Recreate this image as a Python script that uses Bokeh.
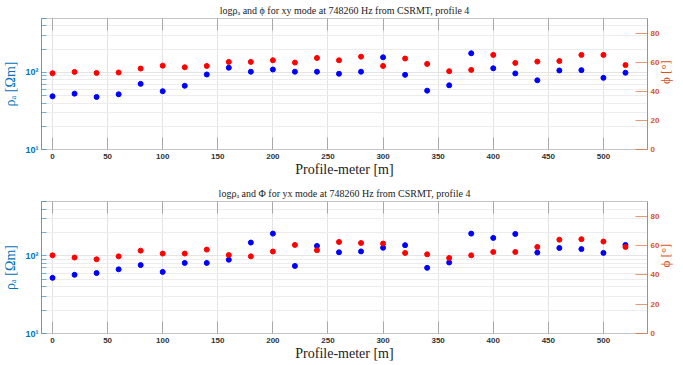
import math
from bokeh.plotting import figure
from bokeh.models import Range1d, LinearAxis, FixedTicker, LinearScale
from bokeh.layouts import column
from bokeh.embed import file_html
from bokeh.resources import INLINE

# ---------------- data ----------------
profile_m = [0, 20, 40, 60, 80, 100, 120, 140, 160, 180, 200, 220, 240, 260,
             280, 300, 320, 340, 360, 380, 400, 420, 440, 460, 480, 500, 520]

rho_xy = [49, 53, 48, 52, 71, 57, 67, 94, 115, 102, 109, 102, 102, 96,
          102, 157, 93, 58, 68, 177, 113, 97, 79, 106, 107, 85, 99]
phi_xy = [52.4, 53.3, 52.6, 52.9, 55.6, 57.6, 56.5, 57.4, 60.2, 60.2, 61.3, 59.7, 62.9, 61.3,
          63.8, 57.4, 62.5, 58.8, 53.8, 54.7, 65.0, 59.5, 60.4, 60.8, 65.0, 65.0, 58.0]

rho_yx = [52, 57, 60, 67, 76, 62, 81, 81, 89, 148, 193, 74, 134, 111,
          114, 127, 137, 70, 82, 193, 170, 191, 110, 126, 122, 109, 138]
phi_yx = [53.3, 51.8, 50.6, 52.6, 56.5, 54.5, 54.5, 57.2, 53.5, 52.6, 55.9, 60.4, 56.8, 62.4,
          61.7, 61.3, 54.9, 54.0, 51.5, 53.3, 55.6, 55.6, 59.0, 64.0, 64.3, 62.7, 59.0]

x_ticks = [0, 50, 100, 150, 200, 250, 300, 350, 400, 450, 500]
rho_major_ticks = [10, 100]
rho_minor_ticks = [20, 30, 40, 50, 60, 70, 80, 90, 200, 300, 400, 500]
rho_tick_labels = {10: "10\u00b9", 100: "10\u00b2"}
phi_ticks = [0, 20, 40, 60, 80]

title_xy = "log\u03c1\u2090 and \u03d5 for xy mode at 748260 Hz from CSRMT, profile 4"
title_yx = "log\u03c1\u2090 and \u03a6 for yx mode at 748260 Hz from CSRMT, profile 4"
xlabel = "Profile-meter [m]"
ylabel_left = "\u03c1\u2090 [\u03a9m]"
ylabel_right = "\u03d5 [\u00b0]"

BLUE = "#0072BD"
ORANGE = "#D95319"
SANS = "Liberation Sans"
SERIF = "Liberation Serif"


def make(title, rho, phi, height, top, bottom, title_gap):
    p = figure(width=683, height=height,
               x_range=Range1d(-10, 540), y_range=Range1d(10, 500),
               y_axis_type="log", output_backend="svg", toolbar_location=None,
               min_border_left=40, min_border_right=29,
               min_border_top=top, min_border_bottom=bottom)
    p.background_fill_color = "white"
    p.border_fill_color = "white"
    p.outline_line_color = "#c4c4c4"

    # title
    p.title.text = title
    p.title.text_font = SERIF
    p.title.text_font_size = "10px"
    p.title.text_font_style = "normal"
    p.title.text_color = "#222222"
    p.title.align = "center"
    p.title.standoff = title_gap

    # bottom x axis
    xa = p.xaxis[0]
    xa.ticker = FixedTicker(ticks=x_ticks)
    xa.axis_label = xlabel
    xa.axis_label_text_font = SERIF
    xa.axis_label_text_font_size = "14px"
    xa.axis_label_text_font_style = "normal"
    xa.axis_label_text_color = "#222222"
    xa.axis_label_standoff = 0
    xa.major_label_text_font = SANS
    xa.major_label_text_font_style = "bold"
    xa.major_label_text_font_size = "8px"
    xa.major_label_text_color = "#333333"
    xa.major_label_standoff = 4
    xa.major_tick_in = 12
    xa.major_tick_out = 0
    xa.minor_tick_line_color = None
    xa.major_tick_line_color = "#a8a8a8"
    xa.axis_line_color = "#c4c4c4"

    # top ticks only
    ta = LinearAxis(ticker=FixedTicker(ticks=x_ticks),
                    major_label_overrides={t: "" for t in x_ticks},
                    major_label_standoff=0, major_tick_in=12, major_tick_out=0,
                    minor_tick_line_color=None, major_tick_line_color="#a8a8a8",
                    axis_line_color="#c4c4c4")
    p.add_layout(ta, "above")

    # left log axis
    ya = p.yaxis[0]
    ya.ticker = FixedTicker(ticks=rho_major_ticks, minor_ticks=rho_minor_ticks)
    ya.major_label_overrides = rho_tick_labels
    ya.major_label_text_font = SANS
    ya.major_label_text_font_style = "bold"
    ya.major_label_text_font_size = "9px"
    ya.major_label_text_color = BLUE
    ya.major_label_standoff = 3
    ya.major_tick_in = 5
    ya.major_tick_out = 0
    ya.minor_tick_in = 5
    ya.minor_tick_out = 0
    ya.major_tick_line_color = BLUE
    ya.minor_tick_line_color = BLUE
    ya.major_tick_line_alpha = 0.5
    ya.minor_tick_line_alpha = 0.5
    ya.axis_line_color = BLUE
    ya.axis_line_alpha = 0.5
    ya.axis_label = ylabel_left
    ya.axis_label_text_font = SERIF
    ya.axis_label_text_font_size = "14px"
    ya.axis_label_text_font_style = "normal"
    ya.axis_label_text_color = BLUE
    ya.axis_label_standoff = 4

    # right phase axis (linear)
    p.extra_y_ranges = {"phi": Range1d(0, 90)}
    p.extra_y_scales = {"phi": LinearScale()}
    ra = LinearAxis(y_range_name="phi", ticker=FixedTicker(ticks=phi_ticks))
    ra.major_label_text_font = SANS
    ra.major_label_text_font_style = "bold"
    ra.major_label_text_font_size = "8px"
    ra.major_label_text_color = ORANGE
    ra.major_label_standoff = 3
    ra.major_tick_in = 12
    ra.major_tick_out = 0
    ra.minor_tick_line_color = None
    ra.major_tick_line_color = ORANGE
    ra.major_tick_line_alpha = 0.6
    ra.axis_line_color = ORANGE
    ra.axis_line_alpha = 0.6
    ra.axis_label = ylabel_right
    ra.axis_label_text_font = SERIF
    ra.axis_label_text_font_size = "13px"
    ra.axis_label_text_font_style = "normal"
    ra.axis_label_text_color = ORANGE
    ra.axis_label_standoff = 3
    ra.axis_label_orientation = math.pi / 2
    p.add_layout(ra, "right")

    # grids
    p.xgrid.ticker = FixedTicker(ticks=x_ticks)
    p.xgrid.grid_line_color = "#e4e4e4"
    p.ygrid.ticker = FixedTicker(ticks=rho_major_ticks, minor_ticks=rho_minor_ticks)
    p.ygrid.grid_line_color = "#e4e4e4"
    p.ygrid.minor_grid_line_color = "#ededed"

    # data
    p.scatter(profile_m, rho, size=5, fill_color="#0000FF", line_color="#0000FF")
    p.scatter(profile_m, phi, y_range_name="phi", size=5,
              fill_color="#FF0000", line_color="#FF0000")
    return p


p1 = make(title_xy, rho_xy, phi_xy, 182, 18, 33, 5)
p2 = make(title_yx, rho_yx, phi_yx, 183, 19, 32, 6)
p = column(p1, p2, spacing=0)

open("out.html", "w").write(file_html(p, INLINE))
